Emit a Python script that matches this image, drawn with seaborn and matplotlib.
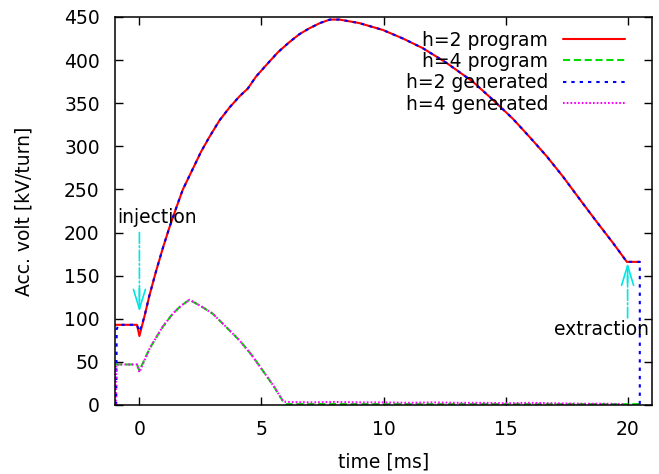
import numpy as np
import pandas as pd
import matplotlib
matplotlib.use("Agg")
import matplotlib.pyplot as plt
from matplotlib.lines import Line2D
import seaborn as sns

# h=2 voltage program (kV/turn) vs time (ms)
t_h2_prog = [-1.0, -0.1, 0.0, 0.2, 0.41, 0.68, 0.96, 1.23, 1.5, 1.78, 2.19, 2.53,
             2.87, 3.28, 3.69, 4.1, 4.44, 4.78, 5.19, 5.67, 6.15, 6.55, 6.97, 7.4,
             7.8, 8.2, 8.6, 9.0, 9.97, 10.8, 11.6, 12.57, 13.66, 14.48, 15.3,
             15.98, 16.67, 17.35, 18.03, 18.72, 19.4, 19.97, 20.5]
v_h2_prog = [93, 93, 80, 102, 127, 155, 182, 206, 228, 250, 274, 294,
             311, 330, 345, 358, 367, 381, 394, 409, 421, 430, 437, 443,
             447, 447, 445, 443, 435, 425, 414, 397, 375, 354, 332,
             311, 289, 265, 239, 213, 188, 166, 166]

# h=2 generated voltage
t_h2_gen = [-0.95, -0.93, -0.85, -0.1, 0.0, 0.2, 0.41, 0.68, 0.96, 1.23, 1.5, 1.78,
            2.19, 2.53, 2.87, 3.28, 3.69, 4.1, 4.44, 4.78, 5.19, 5.67, 6.15, 6.55,
            6.97, 7.4, 7.8, 8.2, 8.6, 9.0, 9.97, 10.8, 11.6, 12.57, 13.66, 14.48,
            15.3, 15.98, 16.67, 17.35, 18.03, 18.72, 19.4, 19.97, 20.5, 20.5]
v_h2_gen = [0, 88, 93, 93, 85, 102, 127, 155, 182, 206, 228, 250,
            274, 294, 311, 330, 345, 358, 367, 381, 394, 409, 421, 430,
            437, 443, 447, 447, 445, 443, 435, 425, 414, 397, 375, 354,
            332, 311, 289, 265, 239, 213, 188, 166, 166, 0]

# h=4 voltage program
t_h4_prog = [-1.0, -0.1, 0.0, 0.41, 0.68, 0.96, 1.37, 1.7, 2.05, 2.5, 3.0, 3.5,
             4.1, 4.6, 5.05, 5.5, 5.87, 6.0, 20.5]
v_h4_prog = [47, 47, 40, 65, 78, 91, 106, 115, 122, 115, 106, 92,
             75, 58, 40, 22, 5, 1, 1]

# h=4 generated voltage
t_h4_gen = [-0.97, -0.95, -0.1, 0.0, 0.41, 0.68, 0.96, 1.37, 1.7, 2.05, 2.5, 3.0,
            3.5, 4.1, 4.6, 5.05, 5.5, 5.87, 6.0, 7.0, 8.0, 9.0, 10.0, 11.0,
            12.0, 13.0, 14.0, 15.0, 16.0, 17.0, 18.0, 19.0, 19.8]
v_h4_gen = [0, 47, 47, 38, 65, 78, 91, 106, 115, 122, 115, 106,
            92, 75, 58, 40, 22, 5, 3.5, 3.0, 3.5, 3.0, 3.0, 2.5,
            3.0, 2.5, 2.5, 2.0, 2.5, 2.0, 1.5, 1.5, 1.0]

labels = ["h=2 program", "h=4 program", "h=2 generated", "h=4 generated"]

sns.set_style("ticks")
plt.rcParams["font.family"] = ["DejaVu Sans"]
plt.rcParams["font.size"] = 13.5
for key in ("text.color", "axes.labelcolor", "xtick.color", "ytick.color",
            "axes.edgecolor"):
    plt.rcParams[key] = "black"

fig = plt.figure(figsize=(6.59, 4.74), dpi=100)
ax = fig.add_axes([115 / 659, 1 - 405 / 474, 537 / 659, 388 / 474])

styles = [
    (t_h2_prog, v_h2_prog, "#ff0000", "-"),
    (t_h4_prog, v_h4_prog, "#00dd00", (0, (3.4, 1.8))),
    (t_h2_gen, v_h2_gen, "#0000ff", (0, (1.6, 2.4))),
    (t_h4_gen, v_h4_gen, "#ff00ff", (0, (0.8, 1.0))),
]
for (t, v, c, ls), lab in zip(styles, labels):
    sns.lineplot(x=t, y=v, ax=ax, color=c, linestyle=ls, lw=1.5,
                 estimator=None, sort=False)

ax.set_xlim(-1, 21)
ax.set_ylim(0, 450)
ax.set_xticks([0, 5, 10, 15, 20])
ax.set_yticks(range(0, 451, 50))
ax.tick_params(direction="in", length=5.8, width=1.0, top=True, right=True,
               labelsize=13.5, pad=11)
for s in ax.spines.values():
    s.set_visible(True)
    s.set_linewidth(1.1)
ax.set_xlabel("time [ms]", fontsize=13.5, labelpad=9.5)
ax.set_ylabel("Acc. volt [kV/turn]", fontsize=13.5, labelpad=22)

# injection / extraction markers
arrow_c = "#00e5e5"
ax.annotate("", xy=(0, 120), xytext=(0, 200),
            arrowprops=dict(arrowstyle="-", color=arrow_c, lw=1.2,
                            linestyle="-.", shrinkA=0, shrinkB=0))
ax.annotate("", xy=(0, 108), xytext=(0, 135),
            arrowprops=dict(arrowstyle="->,head_length=1.05,head_width=0.32",
                            color=arrow_c, lw=1.2, shrinkA=0, shrinkB=0))
ax.annotate("", xy=(20, 150), xytext=(20, 101),
            arrowprops=dict(arrowstyle="-", color=arrow_c, lw=1.2,
                            linestyle="-.", shrinkA=0, shrinkB=0))
ax.annotate("", xy=(20, 165), xytext=(20, 140),
            arrowprops=dict(arrowstyle="->,head_length=1.05,head_width=0.32",
                            color=arrow_c, lw=1.2, shrinkA=0, shrinkB=0))
ax.text(-0.9, 211, "injection", ha="left", va="baseline", fontsize=13.5)
ax.text(18.95, 81, "extraction", ha="center", va="baseline", fontsize=13.5)

handles = [Line2D([], [], color=c, linestyle=ls, lw=1.5) for (_, _, c, ls) in styles]
ax.legend(handles, labels, loc="upper right", bbox_to_anchor=(0.9497, 0.965),
          frameon=False, markerfirst=False, labelspacing=0.13, borderpad=0,
          borderaxespad=0, handlelength=3.3, handletextpad=0.8, fontsize=13.5)

fig.savefig("out.png", dpi=100)
